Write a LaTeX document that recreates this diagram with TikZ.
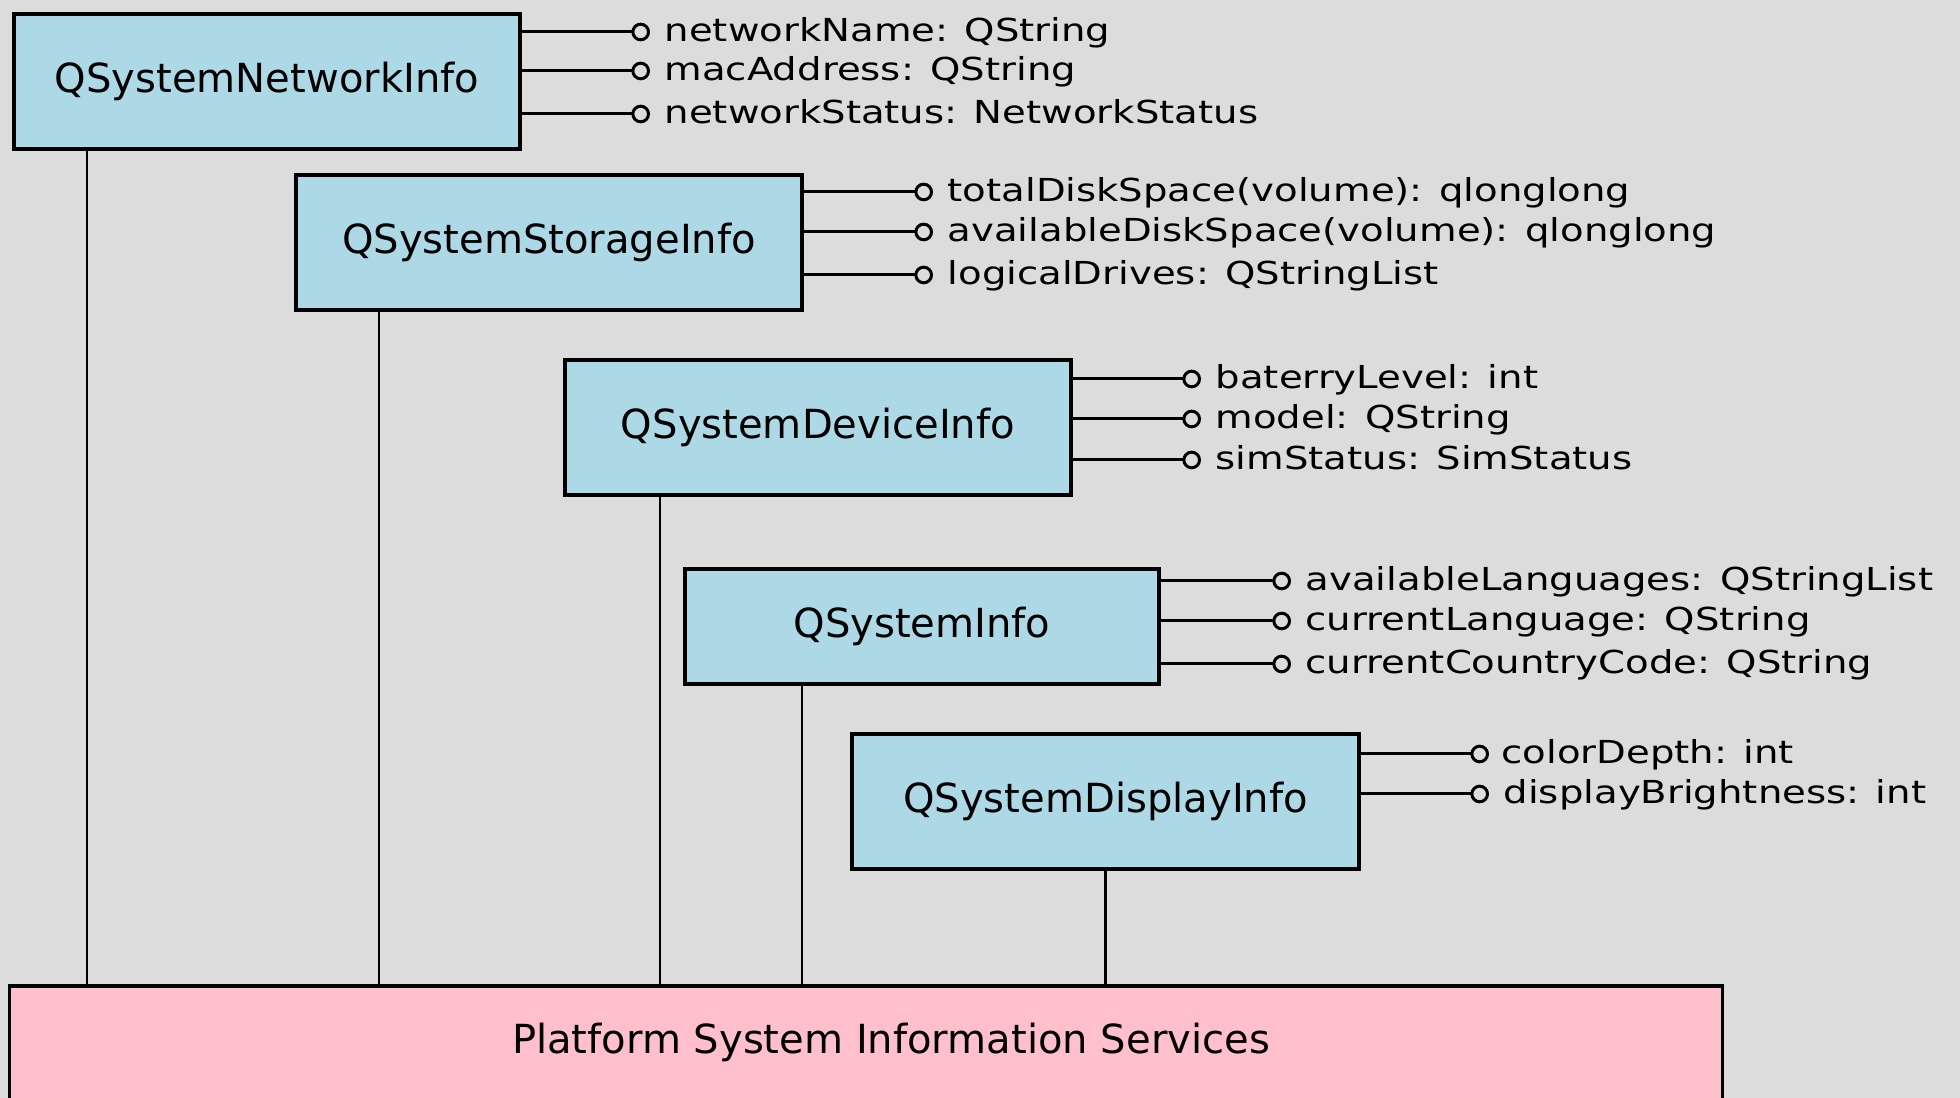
\documentclass[tikz,border=0pt]{standalone}
\usepackage{fontspec}
\usepackage{tikz}
\setmainfont{DejaVu Sans}
\newfontfamily\attrfont[FakeStretch=1.22]{DejaVu Sans}
\definecolor{bggray}{RGB}{220,220,220}
\definecolor{boxblue}{RGB}{173,216,230}
\definecolor{platpink}{RGB}{255,192,203}
\tikzset{
  >=latex,
}
\tikzstyle{infobox}=[draw,line width=0.95pt,fill=boxblue,inner sep=0pt,font=\fontsize{11.4}{13.7}\selectfont]
\tikzstyle{platbox}=[draw,line width=0.95pt,fill=platpink,inner sep=0pt]
\tikzstyle{attr}=[inner sep=0pt,anchor=mid west,font=\attrfont\fontsize{9}{10.8}\selectfont]
\tikzstyle{conn}=[line width=0.85pt,-{Circle[open,length=5.3pt,width=5.3pt,line width=0.85pt]}]
\tikzstyle{link}=[line width=0.6pt]
\usetikzlibrary{arrows.meta}

\begin{document}
\begin{tikzpicture}[x=0.01cm,y=-0.01cm]
    \fill[bggray] (0,0) rectangle (1960,1098);
    \useasboundingbox (0,0) rectangle (1960,1098);
    % info classes
    \node[infobox,minimum width=5.06cm,minimum height=1.35cm] (net) at (267,81.5) {QSystemNetworkInfo};
    \node[infobox,minimum width=5.06cm,minimum height=1.35cm] (sto) at (549,242.5) {QSystemStorageInfo};
    \node[infobox,minimum width=5.06cm,minimum height=1.35cm] (dev) at (818,427.5) {QSystemDeviceInfo};
    \node[infobox,minimum width=4.74cm,minimum height=1.15cm] (sys) at (922,626.5) {QSystemInfo};
    \node[infobox,minimum width=5.07cm,minimum height=1.35cm] (dsp) at (1105.5,801.5) {QSystemDisplayInfo};
    \node[platbox,minimum width=17.12cm,minimum height=1.18cm] (plat) at (866,1045) {};
    \node[font=\fontsize{11.4}{13.7}\selectfont] (platlbl) at (891,1042) {Platform System Information Services};
    % properties
    \node[attr] (nname) at (664,32) {networkName: QString};
    \node[attr] (nmac) at (664,71) {macAddress: QString};
    \node[attr] (nstat) at (664,114) {networkStatus: NetworkStatus};
    \node[attr] (stotal) at (947,192) {totalDiskSpace(volume): qlonglong};
    \node[attr] (savail) at (947,232) {availableDiskSpace(volume): qlonglong};
    \node[attr] (sdrive) at (947,275) {logicalDrives: QStringList};
    \node[attr] (dbatt) at (1215,379) {baterryLevel: int};
    \node[attr] (dmodel) at (1215,419) {model: QString};
    \node[attr] (dsim) at (1215,460) {simStatus: SimStatus};
    \node[attr] (ylangs) at (1305,581) {availableLanguages: QStringList};
    \node[attr] (ylang) at (1305,621) {currentLanguage: QString};
    \node[attr] (ycode) at (1305,664) {currentCountryCode: QString};
    \node[attr] (pdepth) at (1501,754) {colorDepth: int};
    \node[attr] (pbright) at (1503,794) {displayBrightness: int};
    \draw[conn] (net.east |- nname.mid) -- ([xshift=-1.4mm]nname.mid west);
    \draw[conn] (net.east |- nmac.mid) -- ([xshift=-1.4mm]nmac.mid west);
    \draw[conn] (net.east |- nstat.mid) -- ([xshift=-1.4mm]nstat.mid west);
    \draw[conn] (sto.east |- stotal.mid) -- ([xshift=-1.4mm]stotal.mid west);
    \draw[conn] (sto.east |- savail.mid) -- ([xshift=-1.4mm]savail.mid west);
    \draw[conn] (sto.east |- sdrive.mid) -- ([xshift=-1.4mm]sdrive.mid west);
    \draw[conn] (dev.east |- dbatt.mid) -- ([xshift=-1.4mm]dbatt.mid west);
    \draw[conn] (dev.east |- dmodel.mid) -- ([xshift=-1.4mm]dmodel.mid west);
    \draw[conn] (dev.east |- dsim.mid) -- ([xshift=-1.4mm]dsim.mid west);
    \draw[conn] (sys.east |- ylangs.mid) -- ([xshift=-1.4mm]ylangs.mid west);
    \draw[conn] (sys.east |- ylang.mid) -- ([xshift=-1.4mm]ylang.mid west);
    \draw[conn] (sys.east |- ycode.mid) -- ([xshift=-1.4mm]ycode.mid west);
    \draw[conn] (dsp.east |- pdepth.mid) -- ([xshift=-1.2mm]pdepth.mid west);
    \draw[conn] (dsp.east |- pbright.mid) -- ([xshift=-1.4mm]pbright.mid west);
    % links down to the platform
    \draw[link] (net.south -| 87,0) -- (plat.north -| 87,0);
    \draw[link] (sto.south -| 379,0) -- (plat.north -| 379,0);
    \draw[link] (dev.south -| 660,0) -- (plat.north -| 660,0);
    \draw[link] (sys.south -| 802,0) -- (plat.north -| 802,0);
    \draw[link] (dsp.south) -- (plat.north -| dsp.south);
\end{tikzpicture}
\end{document}
